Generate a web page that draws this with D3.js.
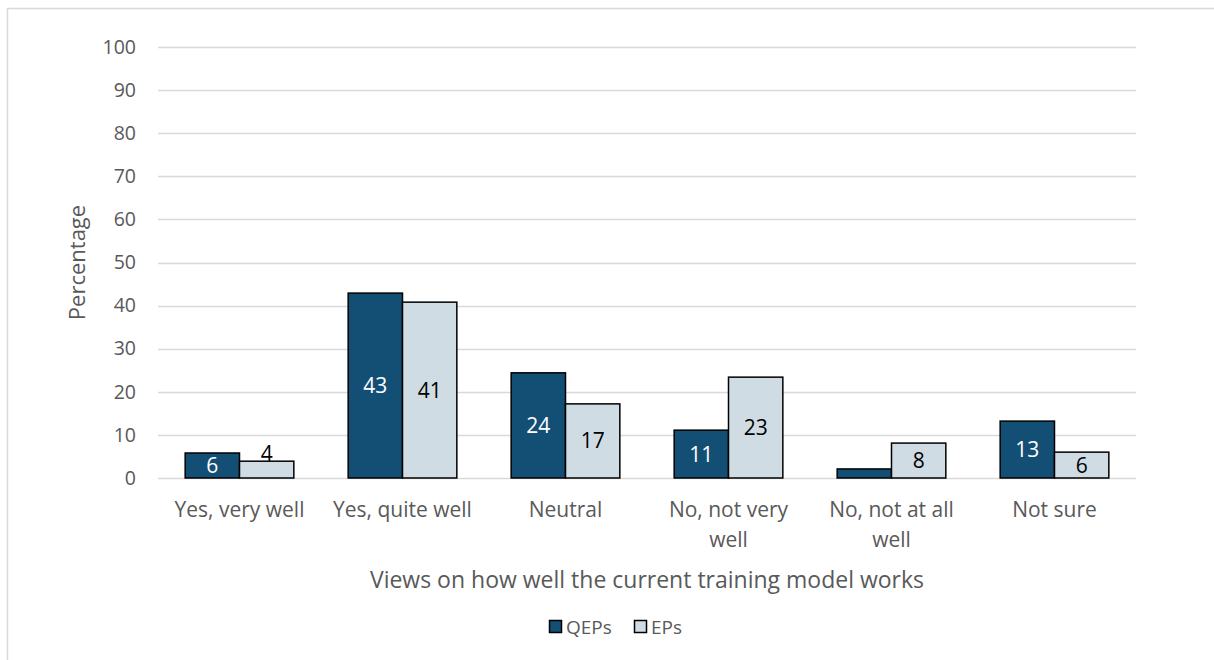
<!DOCTYPE html>
<html>
<head>
    <script src="https://d3js.org/d3.v7.min.js"></script>
    <style>
        body { margin: 0; background: #fff; }
        text { font-family: "Open Sans", Lato, sans-serif; }
    </style>
</head>
<body>
<script>
    // Data
    var categories = ["Yes, very well", "Yes, quite well", "Neutral", "No, not very well", "No, not at all well", "Not sure"];
    var tickLabels = [["Yes, very well"], ["Yes, quite well"], ["Neutral"], ["No, not very", "well"], ["No, not at all", "well"], ["Not sure"]];
    var seriesNames = ["QEPs", "EPs"];
    var qeps = [5.8, 42.9, 24.4, 11.1, 2.1, 13.2];
    var eps = [3.9, 40.8, 17.2, 23.4, 8.1, 6.0];
    var qepLabels = ["6", "43", "24", "11", "", "13"];
    var epLabels = ["4", "41", "17", "23", "8", "6"];
    var yTicks = [0, 10, 20, 30, 40, 50, 60, 70, 80, 90, 100];

    var colors = {QEPs: "#134F75", EPs: "#D0DCE4"};

    var W = 1214, H = 660;
    var margin = {top: 47, left: 158, right: 78, bottom: 182};
    var width = W - margin.left - margin.right,
        height = H - margin.top - margin.bottom;

    var svg = d3.select("body").append("svg")
        .attr("width", W)
        .attr("height", H);

    // chart frame (only top and left edges visible in the crop)
    svg.append("path")
        .attr("d", "M7.5," + (H + 5) + "V8.5H" + (W + 5))
        .attr("fill", "none")
        .attr("stroke", "#d9d9d9")
        .attr("stroke-width", 1.5);

    var g = svg.append("g")
        .attr("transform", "translate(" + margin.left + "," + margin.top + ")");

    var x0 = d3.scaleBand().domain(categories).range([0, width]).paddingInner(1 / 3).paddingOuter(1 / 6);
    var x1 = d3.scaleBand().domain(seriesNames).range([0, x0.bandwidth()]);
    var y = d3.scaleLinear().domain([0, 100]).range([height, 0]);

    // gridlines
    g.append("g")
        .selectAll("line")
        .data(yTicks)
        .join("line")
        .attr("x1", 0)
        .attr("x2", width)
        .attr("y1", function(d) { return Math.round(y(d)) + 0.5; })
        .attr("y2", function(d) { return Math.round(y(d)) + 0.5; })
        .attr("stroke", "#d9d9d9")
        .attr("stroke-width", 1.5);

    // y axis labels
    var yAxis = g.append("g")
        .call(d3.axisLeft(y).tickValues(yTicks).tickSize(0).tickPadding(22));
    yAxis.select(".domain").remove();
    yAxis.selectAll("text")
        .attr("font-size", 19.5)
        .attr("fill", "#595959")
        .style("font-family", "'Open Sans', sans-serif");

    // bars
    var rows = categories.map(function(c, i) {
        return [
            {cat: c, key: "QEPs", value: qeps[i], label: qepLabels[i]},
            {cat: c, key: "EPs", value: eps[i], label: epLabels[i]}
        ];
    });

    var groups = g.append("g")
        .selectAll("g")
        .data(rows)
        .join("g")
        .attr("transform", function(d) { return "translate(" + x0(d[0].cat) + ",0)"; });

    groups.selectAll("rect")
        .data(function(d) { return d; })
        .join("rect")
        .attr("x", function(d) { return x1(d.key); })
        .attr("y", function(d) { return y(d.value); })
        .attr("width", x1.bandwidth())
        .attr("height", function(d) { return y(0) - y(d.value); })
        .attr("fill", function(d) { return colors[d.key]; })
        .attr("stroke", "#000")
        .attr("stroke-width", 1.5);

    groups.selectAll("text")
        .data(function(d) { return d; })
        .join("text")
        .attr("x", function(d) { return x1(d.key) + x1.bandwidth() / 2; })
        .attr("y", function(d) {
            var h = y(0) - y(d.value);
            if (h < 20) return y(d.value) - 8;
            return y(d.value) + h / 2;
        })
        .attr("dy", "0.36em")
        .attr("text-anchor", "middle")
        .attr("font-size", 21)
        .attr("fill", function(d) { return d.key === "QEPs" ? "#fff" : "#000"; })
        .text(function(d) { return d.label; });

    // category labels
    var xl = g.append("g")
        .selectAll("text")
        .data(categories)
        .join("text")
        .attr("x", function(d) { return x0(d) + x0.bandwidth() / 2; })
        .attr("y", height + 39)
        .attr("text-anchor", "middle")
        .attr("font-size", 21)
        .attr("fill", "#595959");
    xl.each(function(d, i) {
        var t = d3.select(this);
        tickLabels[i].forEach(function(line, j) {
            t.append("tspan")
                .attr("x", x0(d) + x0.bandwidth() / 2)
                .attr("dy", j === 0 ? 0 : 30)
                .text(line);
        });
    });

    // axis titles
    svg.append("text")
        .attr("transform", "translate(85," + (margin.top + height / 2) + ") rotate(-90)")
        .attr("text-anchor", "middle")
        .attr("font-size", 22)
        .attr("fill", "#595959")
        .text("Percentage");

    svg.append("text")
        .attr("x", 647)
        .attr("y", 588)
        .attr("text-anchor", "middle")
        .attr("font-size", 23)
        .attr("fill", "#595959")
        .text("Views on how well the current training model works");

    // legend
    var legend = svg.append("g").attr("transform", "translate(549,627)");
    var lx = [0, 85];
    seriesNames.forEach(function(s, i) {
        var item = legend.append("g").attr("transform", "translate(" + lx[i] + ",0)");
        item.append("rect")
            .attr("x", 0.5).attr("y", -6.5)
            .attr("width", 12).attr("height", 12)
            .attr("fill", colors[s])
            .attr("stroke", "#000")
            .attr("stroke-width", 1.5);
        item.append("text")
            .attr("x", 17)
            .attr("y", 0)
            .attr("dy", "0.36em")
            .attr("font-size", 19)
            .attr("fill", "#595959")
            .text(s);
    });
</script>
</body>
</html>
